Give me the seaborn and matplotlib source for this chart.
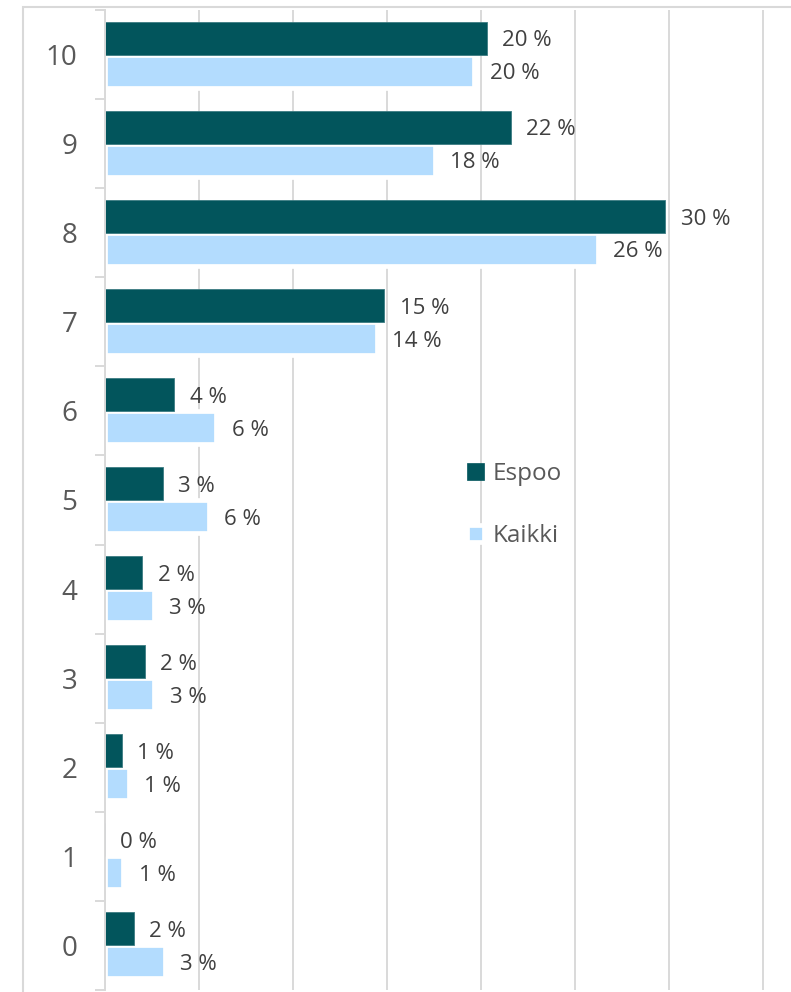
import numpy as np
import pandas as pd
import matplotlib
matplotlib.use("Agg")
import matplotlib.pyplot as plt
from matplotlib.patches import Rectangle, Patch
import seaborn as sns

categories = ["10", "9", "8", "7", "6", "5", "4", "3", "2", "1", "0"]
series = ["Espoo", "Kaikki"]
espoo = [20.3, 21.6, 29.8, 14.86, 3.69, 3.07, 1.98, 2.13, 0.9, 0.0, 1.52]
kaikki = [19.65, 17.55, 26.2, 14.45, 5.93, 5.54, 2.6, 2.63, 1.27, 0.97, 3.2]
colors = ["#02555C", "#B3DCFE"]

df = pd.DataFrame({
    "category": categories * 2,
    "series": [series[0]] * len(categories) + [series[1]] * len(categories),
    "value": espoo + kaikki,
})

sns.set_theme(style="white")
plt.rcParams["font.family"] = ["Open Sans", "DejaVu Sans"]

W, H = 791, 992
fig = plt.figure(figsize=(W / 100, H / 100), dpi=100)
px = 18.8  # pixels per percent
xmax = 40
ax = fig.add_axes([105 / W, 2 / H, xmax * px / W, 980 / H])

sns.barplot(data=df, x="value", y="category", hue="series", order=categories,
            hue_order=series, palette=colors, width=0.74, gap=0, orient="h",
            ax=ax, legend=False, saturation=1)

# edges
for bar in ax.containers[0]:
    bar.set_edgecolor("#3C7C82")
    bar.set_linewidth(0.6)
    bar.set_zorder(3)
for bar in ax.containers[1]:
    bar.set_edgecolor("white")
    bar.set_linewidth(3.4)
    bar.set_zorder(2)

for cont in ax.containers:
    texts = ax.bar_label(cont, fmt="{:.0f} %", padding=11, fontsize=16,
                         color="#404040")
    for t in texts:
        t.xyann = (11, -2)

ax.set_xlim(0, xmax)
ax.set_xticks(np.arange(0, xmax + 1, 5))
ax.tick_params(axis="x", length=0, labelbottom=False)
ax.xaxis.grid(True, color="#D9D9D9", linewidth=1.4)
ax.yaxis.grid(False)
ax.set_axisbelow(True)

ax.set_ylim(len(categories) - 0.5, -0.5)
ax.tick_params(axis="y", which="major", length=0, pad=20, labelsize=20,
               labelcolor="#595959")
ax.set_yticks(np.arange(-0.5, len(categories), 1), minor=True)
ax.tick_params(axis="y", which="minor", left=True, length=7, width=1.4,
               color="#D9D9D9")
ax.set_xlabel("")
ax.set_ylabel("")
for s in ["top", "right", "bottom"]:
    ax.spines[s].set_visible(False)
ax.spines["left"].set_color("#D9D9D9")
ax.spines["left"].set_linewidth(1.4)
ax.spines["left"].set_zorder(4)

handles = [
    Patch(facecolor=colors[0], edgecolor=colors[0], linewidth=0.5),
    Patch(facecolor=colors[1], edgecolor="white", linewidth=3.4),
]
leg = ax.legend(handles, series, loc="center left",
                bbox_to_anchor=(467 / W, 1 - 505 / H), bbox_transform=fig.transFigure,
                frameon=False, fontsize=17.5, labelcolor="#595959",
                handlelength=0.7, handleheight=0.7, handletextpad=0.35,
                labelspacing=1.55, borderpad=0, borderaxespad=0)

fig.add_artist(Rectangle((23 / W, -0.1), 2, 1 - 7 / H + 0.1,
                         transform=fig.transFigure, fill=False,
                         edgecolor="#D9D9D9", linewidth=1.5))

fig.savefig("out.png", dpi=100)
